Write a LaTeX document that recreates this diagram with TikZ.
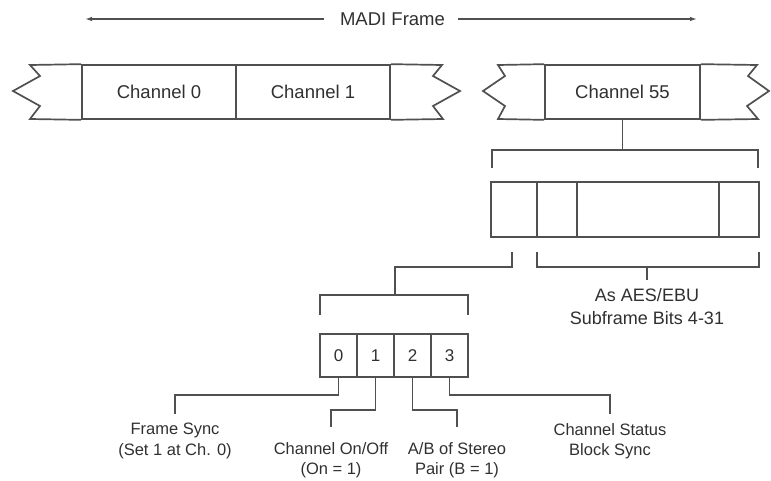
\documentclass[tikz,border=0pt]{standalone}
\usepackage{fontspec}
\setmainfont{Liberation Sans}
\usetikzlibrary{arrows.meta,calc}
\definecolor{lc}{HTML}{505050}
\definecolor{tc}{HTML}{303030}
\begin{document}
\begin{tikzpicture}[x=1pt,y=-1pt,
  ln/.style={draw=lc, line width=1.7pt},
  big/.style={font=\fontsize{18.5}{22}\selectfont, text=tc},
  small/.style={font=\fontsize{16.5}{20.5}\selectfont, text=tc, align=center, inner sep=2pt},
  cell/.style={ln, big, inner sep=0pt, minimum height=54pt},
  sfcell/.style={ln, inner sep=0pt, minimum height=55pt},
  bitcell/.style={ln, inner sep=0pt, minimum height=43pt, minimum width=37pt,
    font=\fontsize{17}{20}\selectfont, text=tc},
  arr/.style={ln, line width=1.3pt, -{Latex[length=7pt,width=4.5pt]}}]
\useasboundingbox (0,0) rectangle (771,480);

% MADI frame arrow
\node[big, inner sep=0pt] (madi) at (392.5,19) {MADI Frame};
\coordinate (la) at (85,19);
\coordinate (ra) at (697,19);
\draw[arr] ([xshift=-16pt]madi.west) -- (la);
\draw[arr] ([xshift=13pt]madi.east) -- (ra);

% first strip
\node[cell, minimum width=154pt] (c0) at (159,92) {Channel 0};
\node[cell, minimum width=154pt] (c1) at (313,92) {Channel 1};
\draw[ln] (c0.north west) -- (30,65) -- (40,76) -- (13,91) -- (40,106) -- (30,119) -- (c0.south west);
\draw[ln] (c1.north east) -- (442,65) -- (433,76) -- (460,91) -- (433,106) -- (443,119) -- (c1.south east);

% second strip
\node[cell, minimum width=155pt] (c55) at (622.5,92) {Channel 55};
\draw[ln] (c55.north west) -- (498,65) -- (505,76) -- (483,91) -- (505,106) -- (498,119) -- (c55.south west);
\draw[ln] (c55.north east) -- (757,65) -- (748,76) -- (769,91) -- (747,106) -- (758,119) -- (c55.south east);

% bracket under channel 55
\coordinate (br1) at (622.5,150);
\draw[ln] (c55.south) -- (br1);
\draw[ln] (492,168) -- (492,150) -- (758,150) -- (758,168);

% subframe box
\node[sfcell, minimum width=46pt] (sf0) at (514,209.5) {};
\node[sfcell, minimum width=40pt] (sf1) at (557,209.5) {};
\node[sfcell, minimum width=142pt] (sf2) at (648,209.5) {};
\node[sfcell, minimum width=40pt] (sf3) at (739,209.5) {};

% left connector to bits bracket
\coordinate (br2) at (395,295);
\draw[ln] (512,252) -- (512,267) -| (br2);
\draw[ln] (320,315) -- (320,295) -- (468,295) -- (468,315);

% right bracket and text
\draw[ln] (537,252) -- (537,267) -- (759,267) -- (759,252);
\node[small, anchor=north, font=\fontsize{18}{23}\selectfont] (aes) at (647,286) {As AES/EBU\\Subframe Bits 4-31};
\draw[ln] (647,267) -- ([yshift=6pt]aes.north);

% bits
\node[bitcell] (b0) at (338.5,355.5) {0};
\node[bitcell] (b1) at (375.5,355.5) {1};
\node[bitcell] (b2) at (412.5,355.5) {2};
\node[bitcell] (b3) at (449.5,355.5) {3};

% labels
\node[small, anchor=north] (fs) at (175,421) {Frame Sync\\(Set 1 at Ch. 0)};
\node[small, anchor=north] (on) at (331,440) {Channel On/Off\\(On = 1)};
\node[small, anchor=north] (ab) at (457,440) {A/B of Stereo\\Pair (B = 1)};
\node[small, anchor=north] (cs) at (610,421) {Channel Status\\Block Sync};

\draw[ln] (b0.south) -- ++(0,17) -| ([yshift=7pt]fs.north);
\draw[ln] (b1.south) -- ++(0,32) -| ([yshift=13pt]on.north);
\draw[ln] (b2.south) -- ++(0,32) -| ([yshift=13pt]ab.north);
\draw[ln] (b3.south) -- ++(0,17) -| ([yshift=7pt]cs.north);
\end{tikzpicture}
\end{document}
